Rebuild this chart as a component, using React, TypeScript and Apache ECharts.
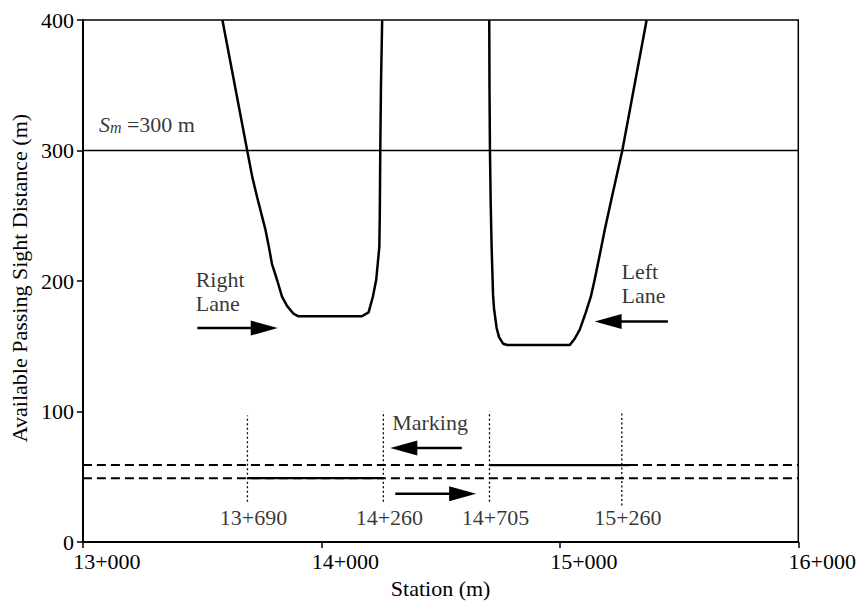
import React, { useEffect, useRef } from "react";
import * as echarts from "echarts";

const FONT = "'Liberation Serif', 'Times New Roman', serif";

// Axis ticks
const xTickLabels = ["13+000", "14+000", "15+000", "16+000"];

// Right lane available passing sight distance curve
const rightLaneStation = [13585, 13689, 13710, 13731, 13766, 13780, 13793, 13814, 13835, 13856, 13883, 13904, 14170, 14198, 14216, 14230, 14243, 14245, 14247, 14250, 14255];
const rightLanePSD = [400, 300, 280, 264, 239, 226, 213, 201, 188, 181, 175, 173, 173, 176, 188, 201, 226, 250, 300, 350, 400];

// Left lane available passing sight distance curve
const leftLaneStation = [14704, 14705, 14707, 14710, 14714, 14720, 14724, 14735, 14745, 14762, 14780, 15042, 15063, 15084, 15109, 15130, 15146, 15174, 15188, 15218, 15262, 15364];
const leftLanePSD = [400, 350, 300, 260, 226, 189, 179, 164, 157, 152, 151, 151, 156, 163, 176, 188, 201, 226, 239, 264, 300, 400];

// Minimum passing sight distance
const smStation = [13000, 16000];
const smValue = [300, 300];

// Marking lines
const markingUpperY = 59;
const markingLowerY = 49;
const markingRange = [13000, 16000];
const solidUpper = [14705, 15290];
const solidLower = [13690, 14260];

// Dotted station lines
const dividerStations = [13690, 14260, 14705, 15260];
const dividerTop = [97, 100, 100, 100];
const dividerBottom = [31, 31, 31, 28];
const dividerLabels = ["13+690", "14+260", "14+705", "15+260"];
const dividerLabelY = 19;

// Arrows [station, value]
const arrowStart = [[13480, 164], [15453, 169], [14589, 72], [14310, 37]];
const arrowEnd = [[13817, 164], [15146, 169], [14289, 72], [14649, 37]];

// Annotation texts
const noteTexts = ["Right\nLane", "Left\nLane", "Marking"];
const noteStation = [13473, 15259, 14297];
const noteValue = [192, 198, 91.5];
const smLabelPos = [13067, 320];

function buildOption() {
  const lineBase = { type: "line", showSymbol: false, symbol: "none", silent: true, animation: false };
  const series: any[] = [];

  series.push({
    ...lineBase,
    data: smStation.map((s, i) => [s, smValue[i]]),
    lineStyle: { color: "#000", width: 1.5 },
  });
  series.push({
    ...lineBase,
    data: rightLaneStation.map((s, i) => [s, rightLanePSD[i]]),
    lineStyle: { color: "#000", width: 2.5, join: "round" },
  });
  series.push({
    ...lineBase,
    data: leftLaneStation.map((s, i) => [s, leftLanePSD[i]]),
    lineStyle: { color: "#000", width: 2.5, join: "round" },
  });
  // dashed marking lines
  [markingUpperY, markingLowerY].forEach((y) => {
    series.push({
      ...lineBase,
      data: markingRange.map((s) => [s, y]),
      lineStyle: { color: "#000", width: 2, type: [9, 5] },
    });
  });
  // solid segments
  series.push({
    ...lineBase,
    data: solidUpper.map((s) => [s, markingUpperY]),
    lineStyle: { color: "#000", width: 2.2 },
  });
  series.push({
    ...lineBase,
    data: solidLower.map((s) => [s, markingLowerY]),
    lineStyle: { color: "#000", width: 2.2 },
  });
  // dotted station dividers
  dividerStations.forEach((s, i) => {
    series.push({
      ...lineBase,
      data: [[s, dividerBottom[i]], [s, dividerTop[i]]],
      lineStyle: { color: "#000", width: 1.3, type: [2, 2.5] },
    });
  });
  // arrows
  series.push({
    type: "custom",
    silent: true,
    animation: false,
    encode: { x: [0, 2], y: [1, 3] },
    data: arrowStart.map((a, i) => [a[0], a[1], arrowEnd[i][0], arrowEnd[i][1]]),
    renderItem: (params: any, api: any) => {
      const a = api.coord([api.value(0), api.value(1)]);
      const b = api.coord([api.value(2), api.value(3)]);
      const dx = b[0] - a[0];
      const dy = b[1] - a[1];
      const len = Math.hypot(dx, dy) || 1;
      const ux = dx / len;
      const uy = dy / len;
      const hl = 27;
      const hw = 7.5;
      const bx = b[0] - ux * hl;
      const by = b[1] - uy * hl;
      return {
        type: "group",
        children: [
          { type: "line", shape: { x1: a[0], y1: a[1], x2: bx + ux * 2, y2: by + uy * 2 }, style: { stroke: "#000", lineWidth: 2.5 } },
          {
            type: "polygon",
            shape: { points: [[b[0], b[1]], [bx - uy * hw, by + ux * hw], [bx + uy * hw, by - ux * hw]] },
            style: { fill: "#000" },
          },
        ],
      };
    },
  });
  // text labels
  const labelData: any[] = [];
  noteTexts.forEach((t, i) => {
    labelData.push({
      value: [noteStation[i], noteValue[i]],
      label: { formatter: t, align: "left", verticalAlign: "middle", lineHeight: 24 },
    });
  });
  dividerLabels.forEach((t, i) => {
    labelData.push({
      value: [dividerStations[i], dividerLabelY],
      label: { formatter: t, align: "center", verticalAlign: "middle", offset: [6, 0] },
    });
  });
  labelData.push({
    value: smLabelPos,
    label: {
      formatter: "{s|S}{m|m}{t| =300 m}",
      align: "left",
      verticalAlign: "middle",
      rich: {
        s: { fontFamily: FONT, fontSize: 22, fontStyle: "italic", color: "#000", verticalAlign: "bottom" },
        m: { fontFamily: FONT, fontSize: 16, fontStyle: "italic", color: "#000", verticalAlign: "bottom" },
        t: { fontFamily: FONT, fontSize: 22, color: "#000", verticalAlign: "bottom" },
      },
    },
  });
  series.push({
    type: "scatter",
    silent: true,
    animation: false,
    symbolSize: 0,
    data: labelData,
    label: {
      show: true,
      position: "inside",
      fontFamily: FONT,
      fontSize: 22,
      color: "#000",
    },
  });

  return {
    animation: false,
    backgroundColor: "#fff",
    grid: { left: 82, right: 60, top: 20, bottom: 55, show: true, borderColor: "#000", borderWidth: 1.5 },
    xAxis: {
      type: "value",
      min: 13000,
      max: 16000,
      interval: 1000,
      name: "Station (m)",
      nameLocation: "middle",
      nameGap: 34,
      nameTextStyle: { fontFamily: FONT, fontSize: 22, color: "#000" },
      axisLine: { show: true, lineStyle: { color: "#000", width: 2 } },
      axisTick: { show: true, length: 6, lineStyle: { color: "#000", width: 1.5 } },
      splitLine: { show: false },
      axisLabel: {
        fontFamily: FONT,
        fontSize: 22,
        color: "#000",
        margin: 8,
        align: "center",
        padding: [0, 0, 0, 48],
        formatter: (v: number) => xTickLabels[Math.round((v - 13000) / 1000)] ?? "",
      },
    },
    yAxis: {
      type: "value",
      min: 0,
      max: 400,
      interval: 100,
      name: "Available Passing Sight Distance (m)",
      nameLocation: "middle",
      nameGap: 49,
      nameTextStyle: { fontFamily: FONT, fontSize: 22, color: "#000", padding: [0, 0, 0, 6] },
      axisLine: { show: true, lineStyle: { color: "#000", width: 2 } },
      axisTick: { show: true, length: 6, lineStyle: { color: "#000", width: 1.5 } },
      splitLine: { show: false },
      axisLabel: { fontFamily: FONT, fontSize: 22, color: "#000", margin: 9 },
    },
    series,
  };
}

export default function App() {
  const ref = useRef<HTMLDivElement>(null);
  useEffect(() => {
    document.body.style.margin = "0";
    const chart = echarts.init(ref.current!, null, { renderer: "svg" });
    chart.setOption(buildOption() as any);
    return () => chart.dispose();
  }, []);
  return <div ref={ref} style={{ width: 859, height: 604 }} />;
}
